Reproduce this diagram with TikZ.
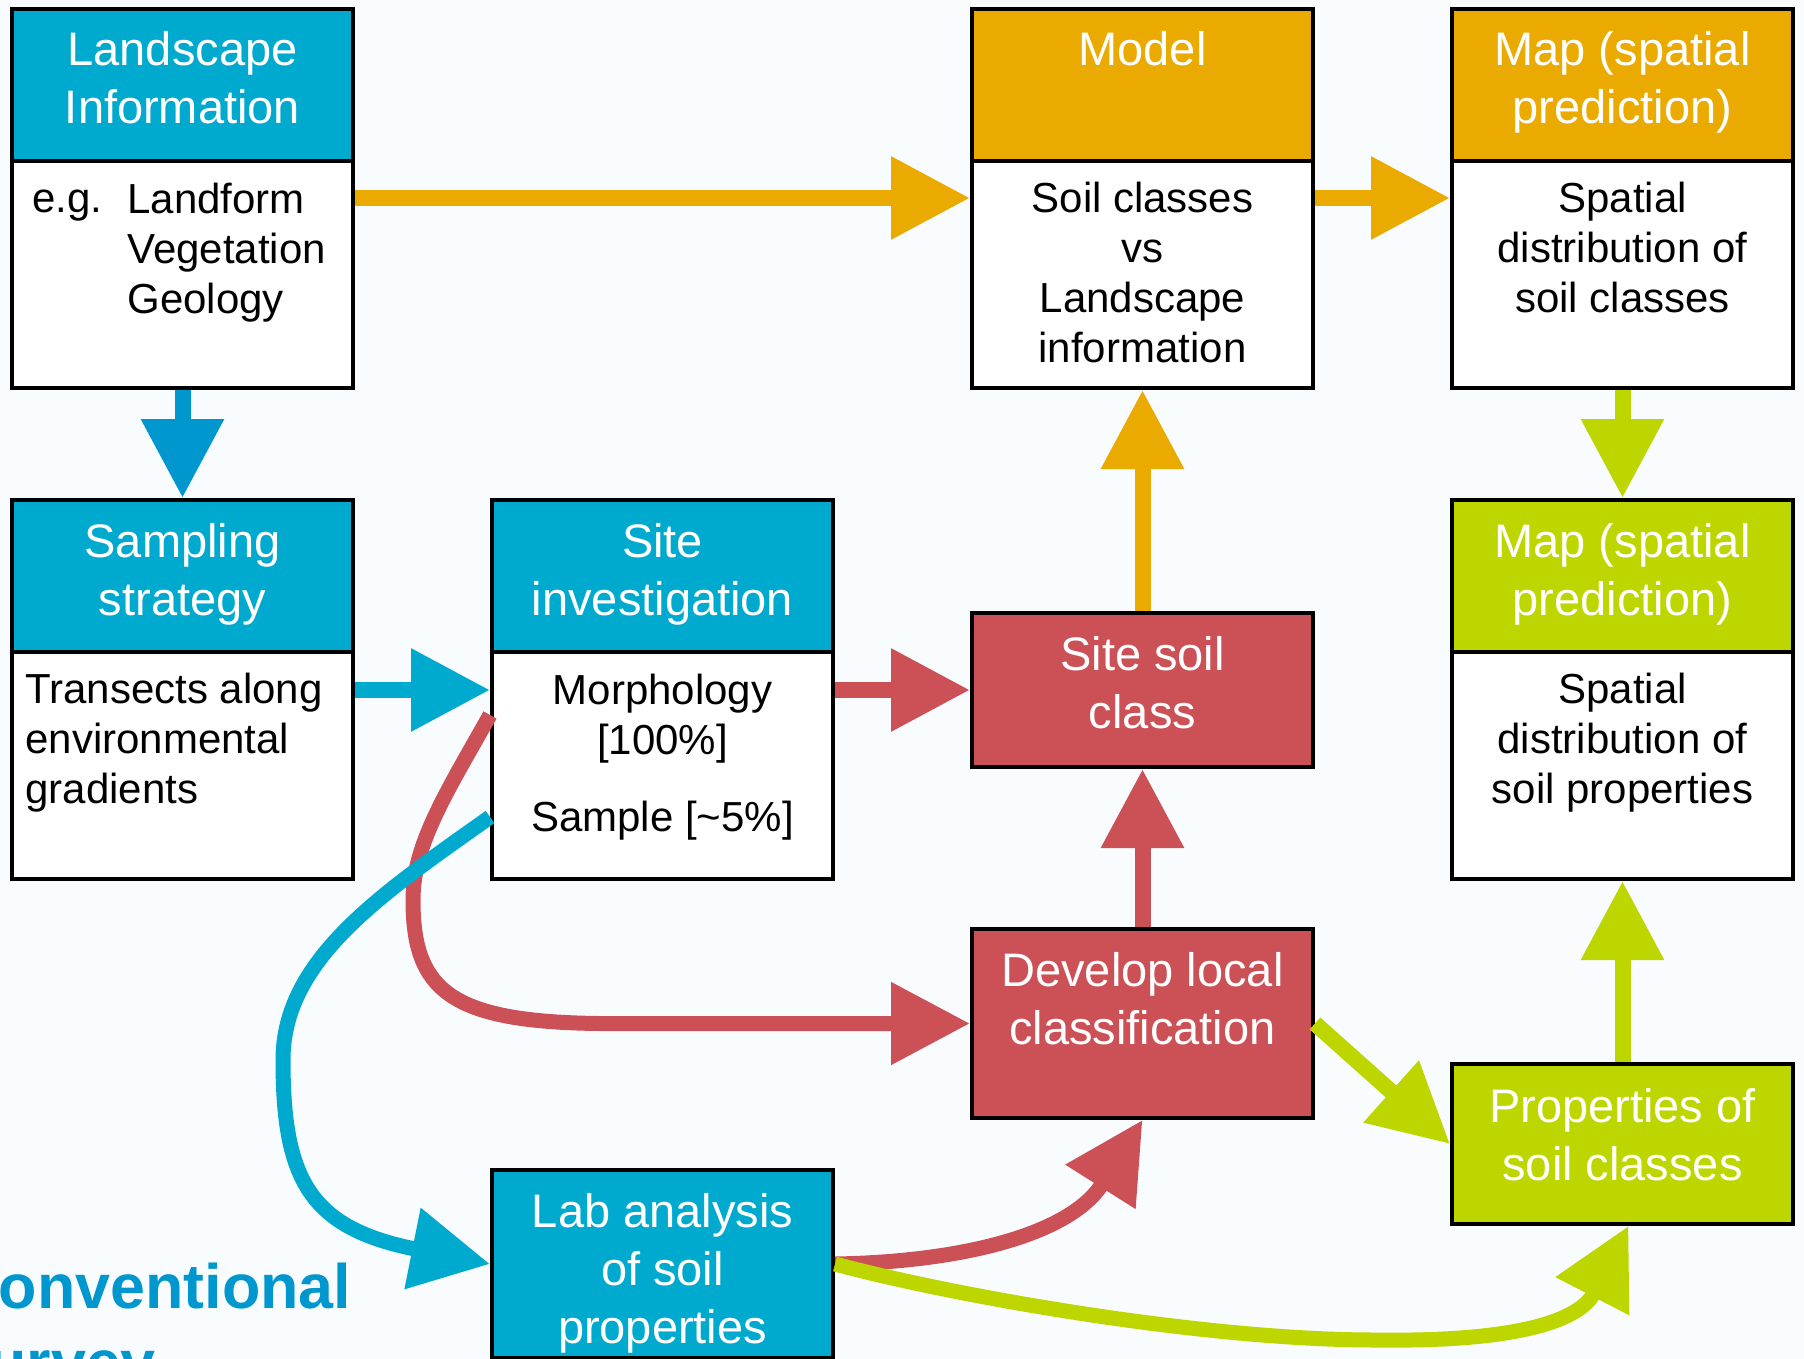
\documentclass[tikz,border=0pt]{standalone}
\usepackage{fontspec}
\setmainfont{Liberation Sans}
\usetikzlibrary{arrows.meta}
\definecolor{cblue}{HTML}{00AACE}
\definecolor{cbluedk}{HTML}{0097CF}
\definecolor{corange}{HTML}{EAAA00}
\definecolor{cred}{HTML}{CB5157}
\definecolor{cgreen}{HTML}{BED600}
\definecolor{bgc}{HTML}{F8FCFE}
\tikzset{
  box/.style={draw=black, line width=2pt, minimum width=170.5pt, inner sep=0pt},
  hdr/.style={box, minimum height=76pt},
  bodybox/.style={box, fill=white, minimum height=113.5pt},
  htxt/.style={text=white, font=\fontsize{23.5}{29}\selectfont, align=center, anchor=base, inner sep=0pt},
  btxt/.style={text=black, font=\fontsize{21}{25}\selectfont, align=center, anchor=base, inner sep=0pt},
  conn/.style={line width=8pt, -{Triangle[length=39.5pt,width=39.5pt]}},
  curveconn/.style={conn, line width=7.5pt},
}
\begin{document}
\begin{tikzpicture}[x=0.5pt,y=-0.5pt]
\useasboundingbox (0,0) rectangle (1804,1359);
\clip (0,0) rectangle (1804,1359);
\fill[bgc] (0,0) rectangle (1804,1359);

% boxes
\node[hdr, fill=cblue] (lsH) at (182.5,85) {};
\node[bodybox] (lsB) at (182.5,274.5) {};
\node[hdr, fill=corange] (mdH) at (1142.5,85) {};
\node[bodybox] (mdB) at (1142.5,274.5) {};
\node[hdr, fill=corange] (mpH) at (1622.5,85) {};
\node[bodybox] (mpB) at (1622.5,274.5) {};

\node[hdr, fill=cblue] (ssH) at (182.5,576) {};
\node[bodybox] (ssB) at (182.5,765.5) {};
\node[hdr, fill=cblue] (siH) at (662.5,576) {};
\node[bodybox] (siB) at (662.5,765.5) {};
\node[hdr, fill=cgreen] (mgH) at (1622.5,576) {};
\node[bodybox] (mgB) at (1622.5,765.5) {};

\node[box, fill=cred, minimum height=77pt] (scl) at (1142.5,690) {};
\node[box, fill=cred, minimum height=94.5pt] (dev) at (1142.5,1023.5) {};
\node[box, fill=cgreen, minimum height=80pt] (prop) at (1622.5,1144) {};
\node[box, fill=cblue, minimum height=94pt] (lab) at (662.5,1264) {};

% texts (anchored at the baseline of their last line)
\node[htxt] (lsT) at (182.5,123.5) {Landscape\\Information};
\node[htxt] (mdT) at (1142.5,65.5) {Model};
\node[htxt] (mpT) at (1622.5,123.5) {Map (spatial\\prediction)};
\node[btxt, anchor=base west] (lsEg) at (32,213) {e.g.};
\node[btxt, align=left, anchor=base west] (lsL) at (127,313) {Landform\\Vegetation\\Geology};
\node[btxt] (mdBT) at (1142.5,362) {Soil classes\\vs\\Landscape\\information};
\node[btxt] (mpBT) at (1622.5,312) {Spatial\\distribution of\\soil classes};

\node[htxt] (ssT) at (182.5,615) {Sampling\\strategy};
\node[htxt] (siT) at (662.5,615) {Site\\investigation};
\node[htxt] (mgT) at (1622.5,615) {Map (spatial\\prediction)};
\node[btxt, align=left, anchor=base west] (ssBT) at (25,803) {Transects along\\environmental\\gradients};
\node[btxt] (siBT) at (662.5,831) {Morphology\\{[100\%]}\\[13.5pt]Sample [\textasciitilde5\%]};
\node[btxt] (mgBT) at (1622.5,803) {Spatial\\distribution of\\soil properties};

\node[htxt] (sclT) at (1142.5,728) {Site soil\\class};
\node[htxt] (devT) at (1142.5,1044) {Develop local\\classification};
\node[htxt] (propT) at (1622.5,1180) {Properties of\\soil classes};
\node[htxt] (labT) at (662.5,1343) {Lab analysis\\of soil\\properties};

\node[font=\bfseries\fontsize{31.4}{38}\selectfont, text=cbluedk, align=left, anchor=base west, inner sep=0pt] (conv) at (-47,1384) {Conventional\\survey};

% helper levels
\coordinate (yA) at (0,198);
\coordinate (yB) at (0,690);
\coordinate (yR) at (0,715);
\coordinate (yS) at (0,817);

% connectors
\draw[conn, corange] (lsB.east |- yA) -- (mdB.west |- yA);
\draw[conn, corange] (mdB.east |- yA) -- (mpB.west |- yA);
\draw[conn, cgreen] (mpB.south) -- (mgH.north);
\draw[conn, cbluedk] (lsB.south) -- (ssH.north);
\draw[conn, cblue] (ssB.east |- yB) -- (siB.west |- yB);
\draw[conn, cred] (siB.east |- yB) -- (scl.west);
\draw[conn, corange] (scl.north) -- (mdB.south);
\draw[conn, cred] (dev.north) -- (scl.south);
\draw[conn, cgreen] (prop.north) -- (mgB.south);
\draw[conn, cgreen] (dev.east) -- (prop.west);

\draw[curveconn, cred] (siB.west |- yR) .. controls (445,795) and (413,845) .. (413,900)
  .. controls (413,990) and (450,1022) .. (600,1023.5) -- (dev.west);
\draw[curveconn, cblue] (siB.west |- yS) .. controls (380,895) and (283,960) .. (283,1060)
  .. controls (283,1180) and (310,1228) .. (lab.west);
\draw[curveconn, cred] (lab.east) .. controls (960,1262) and (1070,1235) .. (dev.south);
\draw[curveconn, cgreen] (lab.east) .. controls (950,1295) and (1200,1340) .. (1376,1340)
  .. controls (1520,1342) and (1580,1320) .. ([xshift=3pt]prop.south);
\end{tikzpicture}
\end{document}
